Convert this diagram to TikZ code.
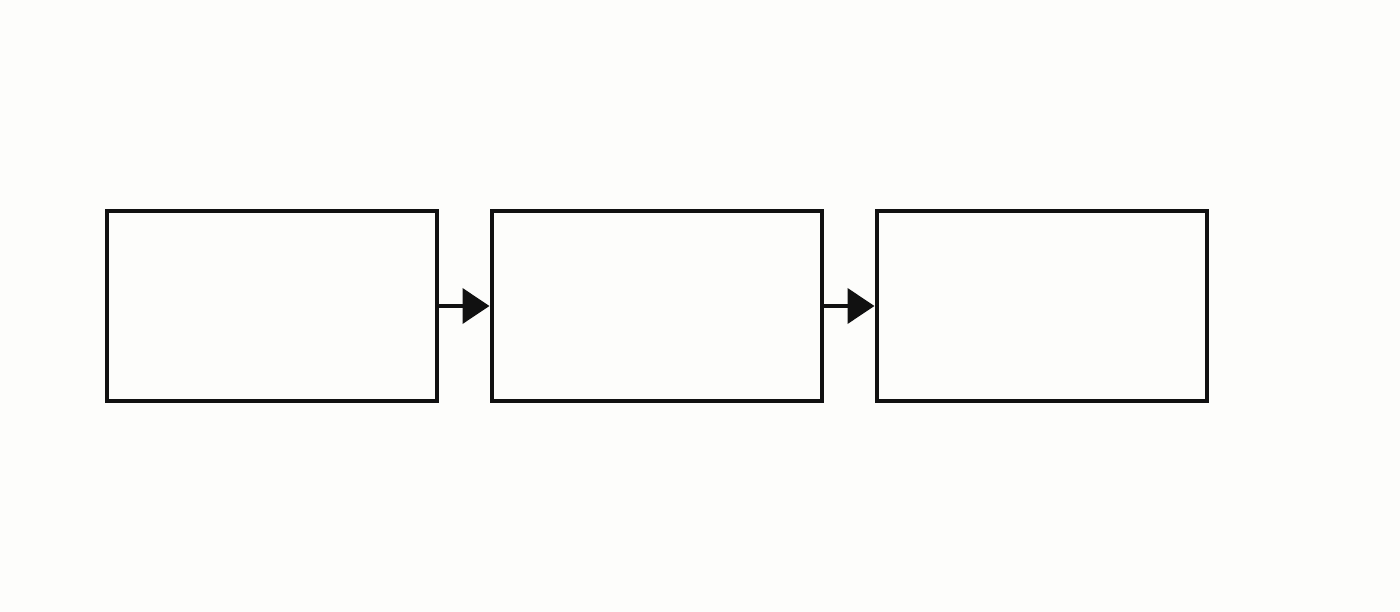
\documentclass[tikz,border=0pt]{standalone}
\usetikzlibrary{arrows.meta}
\definecolor{paper}{HTML}{FDFDFB}
\definecolor{ink}{HTML}{111111}

\begin{document}
\begin{tikzpicture}[>={Triangle[length=0.54cm,width=0.7cm]}]
			\fill[paper] (0,0) rectangle (28,12.24);
			\tikzstyle{every node} = [rectangle,draw=ink,line width=0.08cm,minimum width=6.6cm,minimum height=3.8cm,inner sep=0pt];
			\node (1) at (5.44, 6.12) {};
			\node (2) at (13.13, 6.12) {};
			\node (3) at (20.83, 6.12) {};
			\draw[->,ink,line width=0.08cm] (1) edge (2);
			\draw[->,ink,line width=0.08cm] (2) edge (3);
		\end{tikzpicture}
\end{document}
